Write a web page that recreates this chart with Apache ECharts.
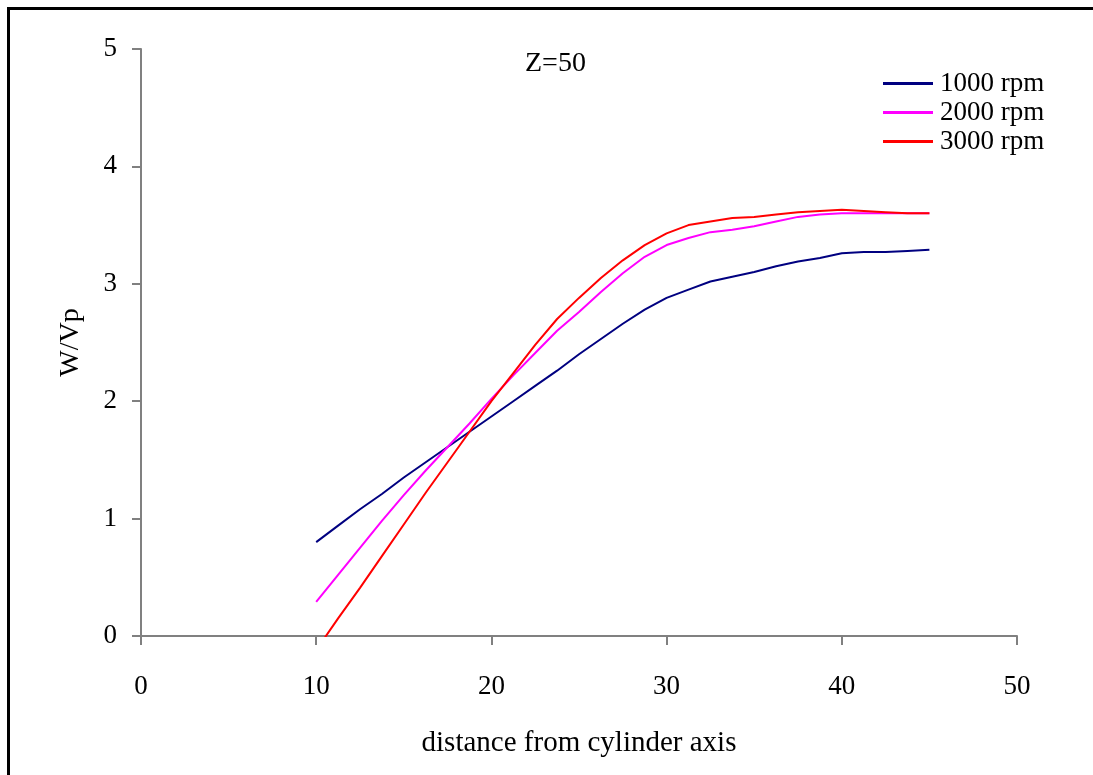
<!DOCTYPE html>
<html>
<head>
<meta charset="utf-8">
<script src="https://cdn.jsdelivr.net/npm/echarts@6/dist/echarts.min.js"></script>
<style>
html,body{margin:0;padding:0;background:#fff;}
#chart{width:1093px;height:775px;}
</style>
</head>
<body>
<div id="chart"></div>
<script>
var distance = [10, 11.25, 12.5, 13.75, 15, 16.25, 17.5, 18.75, 20, 21.25, 22.5, 23.75, 25, 26.25, 27.5, 28.75, 30, 31.25, 32.5, 33.75, 35, 36.25, 37.5, 38.75, 40, 41.25, 42.5, 43.75, 45];
var rpm1000 = [0.80, 0.94, 1.08, 1.21, 1.35, 1.48, 1.61, 1.74, 1.87, 2.00, 2.13, 2.26, 2.40, 2.53, 2.66, 2.78, 2.88, 2.95, 3.02, 3.06, 3.10, 3.15, 3.19, 3.22, 3.26, 3.27, 3.27, 3.28, 3.29];
var rpm2000 = [0.29, 0.52, 0.75, 0.98, 1.20, 1.41, 1.61, 1.81, 2.02, 2.22, 2.41, 2.60, 2.76, 2.93, 3.09, 3.23, 3.33, 3.39, 3.44, 3.46, 3.49, 3.53, 3.57, 3.59, 3.60, 3.60, 3.60, 3.60, 3.60];
var rpm3000 = [-0.12, 0.15, 0.41, 0.68, 0.95, 1.22, 1.48, 1.74, 2.00, 2.24, 2.48, 2.70, 2.88, 3.05, 3.20, 3.33, 3.43, 3.50, 3.53, 3.56, 3.57, 3.59, 3.61, 3.62, 3.63, 3.62, 3.61, 3.60, 3.60];
var seriesNames = ['1000 rpm', '2000 rpm', '3000 rpm'];
var xTicks = [0, 10, 20, 30, 40, 50];
var yTicks = [0, 1, 2, 3, 4, 5];

function pairs(ys) { return distance.map(function (x, i) { return [x, ys[i]]; }); }

var FONT = '"Liberation Serif", "Times New Roman", serif';
var chart = echarts.init(document.getElementById('chart'), null, {renderer: 'canvas'});
chart.setOption({
  animation: false,
  backgroundColor: '#ffffff',
  textStyle: {fontFamily: FONT, color: '#000'},
  grid: {left: 141, right: 76, top: 49, bottom: 139, containLabel: false},
  xAxis: {
    type: 'value', min: xTicks[0], max: xTicks[xTicks.length - 1], interval: 10,
    name: 'distance from cylinder axis', nameLocation: 'middle', nameGap: 93,
    nameTextStyle: {fontFamily: FONT, fontSize: 29, color: '#000'},
    axisLine: {show: true, onZero: false, lineStyle: {color: '#808080', width: 2}},
    axisTick: {show: true, inside: false, length: 9, lineStyle: {color: '#808080', width: 2}},
    axisLabel: {margin: 37, fontFamily: FONT, fontSize: 27, color: '#000'},
    splitLine: {show: false}
  },
  yAxis: {
    type: 'value', min: yTicks[0], max: yTicks[yTicks.length - 1], interval: 1,
    name: 'W/Vp', nameLocation: 'middle', nameGap: 56, nameRotate: 90,
    nameTextStyle: {fontFamily: FONT, fontSize: 28, color: '#000'},
    axisLine: {show: true, lineStyle: {color: '#808080', width: 2}},
    axisTick: {show: true, inside: false, length: 9, lineStyle: {color: '#808080', width: 2}},
    axisLabel: {margin: 24, fontFamily: FONT, fontSize: 27, color: '#000'},
    splitLine: {show: false}
  },
  legend: {
    orient: 'vertical', left: 878, top: 64,
    itemWidth: 50, itemHeight: 3, itemGap: 0,
    icon: 'rect',
    textStyle: {fontFamily: FONT, fontSize: 27, color: '#000', lineHeight: 29, padding: [0, 0, 0, 2]},
    data: seriesNames
  },
  graphic: [
    {type: 'rect', shape: {x: 8.5, y: 8.5, width: 1200, height: 900}, style: {fill: 'none', stroke: '#000', lineWidth: 3}, silent: true},
    {type: 'text', left: 525, top: 50, style: {text: 'Z=50', font: '28px ' + FONT, fill: '#000'}}
  ],
  series: [
    {name: seriesNames[0], type: 'line', data: pairs(rpm1000), showSymbol: false, symbol: 'none', clip: true, lineStyle: {color: '#000080', width: 2}, itemStyle: {color: '#000080'}},
    {name: seriesNames[1], type: 'line', data: pairs(rpm2000), showSymbol: false, symbol: 'none', clip: true, lineStyle: {color: '#FF00FF', width: 2}, itemStyle: {color: '#FF00FF'}},
    {name: seriesNames[2], type: 'line', data: pairs(rpm3000), showSymbol: false, symbol: 'none', clip: true, lineStyle: {color: '#FF0000', width: 2}, itemStyle: {color: '#FF0000'}}
  ]
});
</script>
</body>
</html>
